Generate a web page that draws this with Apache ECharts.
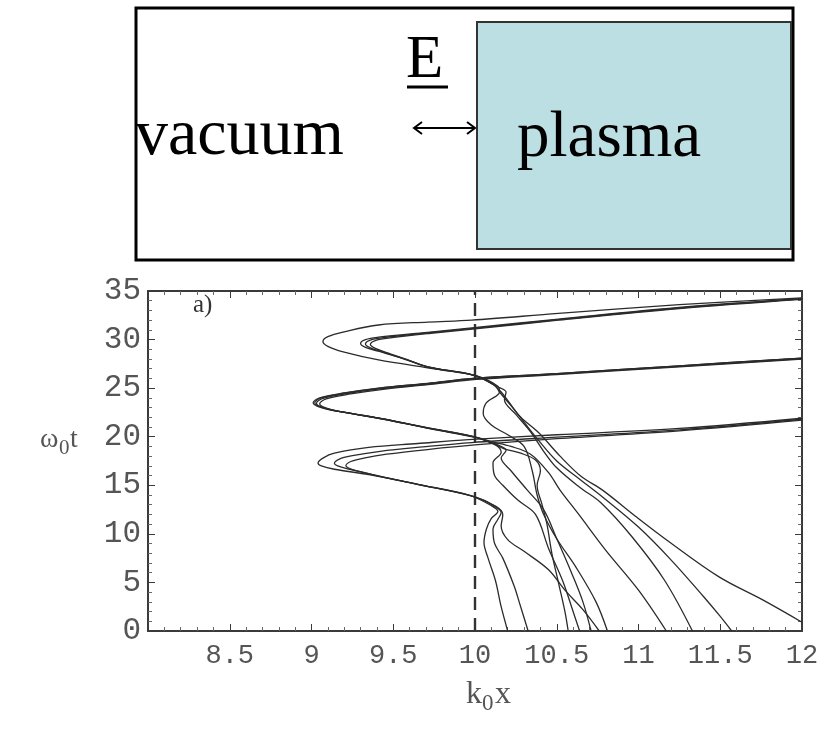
<!DOCTYPE html>
<html>
<head>
<meta charset="utf-8">
<style>
  html, body { margin: 0; padding: 0; background: #fff; }
  #chart { width: 828px; height: 746px; }
</style>
<script src="https://cdn.jsdelivr.net/npm/echarts/dist/echarts.min.js"></script>
</head>
<body>
<div id="chart"></div>
<script>
// Axis ranges and tick labels
const xRange = [8, 12];
const yRange = [0, 35];
const xTickLabels = ['8.5', '9', '9.5', '10', '10.5', '11', '11.5', '12'];
const yTickLabels = ['0', '5', '10', '15', '20', '25', '30', '35'];
const surfaceX = 10;

// Electron trajectories [k0x, w0t], each followed from t = 0 upward.
// Group returning near w0t ~ 17
const trajA1 = [[10.20,0],[10.16,2.5],[10.125,5.2],[10.08,7.5],[10.055,9.1],[10.07,10.5],[10.10,11.6],[10.14,12.3],[10.10,12.9],[9.96,14.0],[9.65,15.1],[9.35,16.1],[9.14,16.65],[9.06,17.0],[9.04,17.3],[9.07,17.8],[9.14,18.3],[9.35,18.9],[9.65,19.3],[9.96,19.7],[10.5,20.2],[11.25,20.85],[12.0,21.9]];
const trajA2 = [[10.325,0],[10.27,3.0],[10.24,4.6],[10.17,7.5],[10.12,9.0],[10.11,10.5],[10.14,11.5],[10.16,12.2],[10.12,12.85],[9.98,13.9],[9.66,15.05],[9.40,16.0],[9.22,16.7],[9.16,17.0],[9.14,17.25],[9.17,17.7],[9.25,18.05],[9.42,18.5],[9.68,18.95],[9.98,19.4],[10.5,19.95],[11.25,20.7],[12.0,21.8]];
const trajA3 = [[10.76,0],[10.66,2.2],[10.55,4.2],[10.45,6.3],[10.30,8.2],[10.20,9.4],[10.16,10.8],[10.17,12.0],[10.13,12.8],[10.0,13.8],[9.68,15.0],[9.45,15.8],[9.30,16.4],[9.23,16.75],[9.21,17.0],[9.24,17.45],[9.32,17.8],[9.46,18.2],[9.72,18.7],[10.0,19.15],[10.5,19.8],[11.25,20.6],[12.0,21.7]];

// Group returning near w0t ~ 23.5
const trajB1 = [[10.57,0],[10.55,2.0],[10.51,5.0],[10.47,8.0],[10.44,11.0],[10.41,13.0],[10.38,15.0],[10.40,16.5],[10.37,17.6],[10.28,18.3],[10.18,18.75],[10.12,19.2],[9.99,20.0],[9.71,20.9],[9.41,21.9],[9.20,22.5],[9.06,23.0],[9.01,23.5],[9.05,24.0],[9.20,24.5],[9.41,25.0],[9.71,25.5],[9.99,26.0],[10.5,26.5],[11.25,27.3],[12.0,28.1]];
const trajB2 = [[10.64,0],[10.60,2.0],[10.54,5.0],[10.45,8.5],[10.37,12.0],[10.26,13.5],[10.17,15.0],[10.12,16.0],[10.11,17.3],[10.16,18.4],[10.13,19.1],[10.0,19.95],[9.72,20.85],[9.43,21.85],[9.22,22.45],[9.08,22.95],[9.03,23.45],[9.07,23.95],[9.22,24.45],[9.43,24.95],[9.72,25.45],[10.0,25.95],[10.5,26.45],[11.25,27.25],[12.0,28.05]];
const trajB3 = [[10.71,0],[10.66,3.0],[10.59,6.0],[10.50,9.5],[10.42,12.5],[10.32,14.5],[10.22,16.5],[10.16,17.8],[10.19,18.6],[10.14,19.15],[10.01,19.9],[9.73,20.8],[9.45,21.8],[9.24,22.4],[9.10,22.9],[9.05,23.4],[9.09,23.9],[9.24,24.4],[9.45,24.9],[9.73,25.4],[10.01,25.9],[10.5,26.4],[11.25,27.2],[12.0,28.0]];
const trajB4 = [[11.17,0],[11.0,4.2],[10.80,8.3],[10.63,12.1],[10.52,14.5],[10.45,16.3],[10.34,18.2],[10.22,19.0],[10.10,19.5],[9.98,20.05],[9.70,20.95],[9.40,21.95],[9.19,22.55],[9.06,23.05],[9.02,23.5],[9.06,24.0],[9.21,24.5],[9.42,25.0],[9.72,25.5],[9.99,26.0],[10.5,26.5],[11.25,27.3],[12.0,28.1]];

// Group returning near w0t ~ 30
const trajC1 = [[12.0,0.9],[11.76,3.2],[11.49,5.6],[11.17,9.4],[10.99,11.7],[10.78,14.5],[10.65,15.9],[10.52,18.0],[10.39,20.4],[10.28,22.0],[10.21,23.5],[10.16,24.6],[10.10,25.5],[9.98,26.4],[9.71,27.1],[9.41,27.9],[9.20,28.7],[9.10,29.3],[9.07,29.8],[9.10,30.3],[9.20,30.8],[9.41,31.5],[9.71,31.8],[9.98,32.0],[10.51,32.7],[11.25,33.6],[12.0,34.3]];
const trajC2 = [[11.57,0],[11.50,1.5],[11.40,3.5],[11.20,7.3],[11.0,10.7],[10.78,13.8],[10.65,15.5],[10.50,17.5],[10.38,19.8],[10.30,21.5],[10.22,23.2],[10.15,24.6],[10.12,25.3],[9.99,26.35],[9.71,27.2],[9.55,28.1],[9.41,28.8],[9.33,29.2],[9.30,29.6],[9.33,30.0],[9.41,30.25],[9.71,30.75],[9.98,31.2],[10.51,32.1],[11.25,33.3],[12.0,34.2]];
const trajC3 = [[11.33,0],[11.16,5.2],[10.96,9.7],[10.77,13.2],[10.64,14.8],[10.50,16.8],[10.42,18.5],[10.34,20.5],[10.25,22.3],[10.18,23.8],[10.19,24.6],[10.13,25.2],[10.0,26.3],[9.72,27.15],[9.57,28.0],[9.44,28.7],[9.36,29.15],[9.33,29.55],[9.36,29.95],[9.44,30.2],[9.72,30.7],[9.99,31.15],[10.51,32.05],[11.25,33.25],[12.0,34.2]];
const trajC4 = [[10.81,0],[10.74,3.0],[10.62,6.5],[10.50,9.5],[10.42,12.0],[10.38,14.0],[10.35,16.5],[10.30,19.0],[10.20,20.2],[10.10,21.2],[10.05,22.4],[10.07,23.5],[10.15,24.6],[10.14,25.2],[10.01,26.25],[9.73,27.1],[9.59,27.9],[9.47,28.6],[9.39,29.1],[9.36,29.5],[9.39,29.9],[9.47,30.15],[9.73,30.65],[10.0,31.1],[10.51,32.0],[11.25,33.2],[12.0,34.15]];

const trajectories = {
  A1: trajA1, A2: trajA2, A3: trajA3,
  B1: trajB1, B2: trajB2, B3: trajB3, B4: trajB4,
  C1: trajC1, C2: trajC2, C3: trajC3, C4: trajC4
};

const tickFont = 'Liberation Mono, DejaVu Sans Mono, monospace';
const serif = 'Liberation Serif, Times New Roman, serif';
const frameColor = '#3a3a3a';

const chart = echarts.init(document.getElementById('chart'), null, { renderer: 'canvas' });

const trajSeries = Object.keys(trajectories).map(name => ({
  name: name,
  type: 'line',
  xAxisIndex: 0,
  yAxisIndex: 0,
  data: trajectories[name],
  showSymbol: false,
  smooth: 0.35,
  lineStyle: { color: '#2b2b2b', width: 1.3 },
  silent: true,
  z: 3
}));

const surfaceSeries = {
  name: 'surface',
  type: 'line',
  data: [[surfaceX, yRange[0]], [surfaceX, yRange[1]]],
  showSymbol: false,
  lineStyle: { color: '#333', width: 2.4, type: [13, 8] },
  silent: true,
  z: 2
};

function frameAxis(extra) {
  return Object.assign({
    type: 'value',
    axisLine: { show: true, onZero: false, lineStyle: { color: frameColor, width: 2 } },
    axisTick: { show: true, inside: true, length: 7, lineStyle: { color: frameColor, width: 1 } },
    minorTick: { show: true, splitNumber: 5, length: 4, lineStyle: { color: '#666', width: 1 } },
    splitLine: { show: false },
    minorSplitLine: { show: false }
  }, extra);
}

const option = {
  animation: false,
  backgroundColor: '#fff',
  grid: { left: 148, top: 291, right: 26, bottom: 115, containLabel: false },
  xAxis: [
    frameAxis({
      min: xRange[0], max: xRange[1], interval: 0.5, position: 'bottom',
      axisLabel: {
        show: true, margin: 11, fontFamily: tickFont, fontSize: 27, color: '#555',
        formatter: v => { const s = String(v); return xTickLabels.indexOf(s) >= 0 ? s : ''; }
      }
    }),
    frameAxis({
      min: xRange[0], max: xRange[1], interval: 0.5, position: 'top',
      axisLabel: { show: false }
    })
  ],
  yAxis: [
    frameAxis({
      min: yRange[0], max: yRange[1], interval: 5, position: 'left',
      axisLabel: {
        show: true, margin: 7, fontFamily: tickFont, fontSize: 31, color: '#555',
        formatter: v => { const s = String(v); return yTickLabels.indexOf(s) >= 0 ? s : ''; }
      }
    }),
    frameAxis({
      min: yRange[0], max: yRange[1], interval: 5, position: 'right',
      axisLabel: { show: false }
    })
  ],
  series: [surfaceSeries].concat(trajSeries),
  graphic: [
    // Schematic: vacuum / plasma interface
    { type: 'rect', shape: { x: 136, y: 8, width: 657, height: 252 },
      style: { fill: '#fff', stroke: '#000', lineWidth: 3 }, z: 1 },
    { type: 'rect', shape: { x: 477, y: 22, width: 314, height: 227 },
      style: { fill: '#bbdfe2', stroke: '#333', lineWidth: 2 }, z: 2 },
    { type: 'text', x: 135, y: 137, z: 3,
      style: { text: 'vacuum', font: '66px ' + serif, fill: '#000', textAlign: 'left', textVerticalAlign: 'middle' } },
    { type: 'text', x: 517, y: 139, z: 3,
      style: { text: 'plasma', font: '65px ' + serif, fill: '#000', textAlign: 'left', textVerticalAlign: 'middle' } },
    { type: 'text', x: 406, y: 61, z: 3,
      style: { text: 'E', font: '61px ' + serif, fill: '#000', textAlign: 'left', textVerticalAlign: 'middle' } },
    { type: 'line', shape: { x1: 407, y1: 87, x2: 448, y2: 87 }, style: { stroke: '#000', lineWidth: 3 }, z: 3 },
    { type: 'line', shape: { x1: 414, y1: 128, x2: 475, y2: 128 }, style: { stroke: '#000', lineWidth: 2 }, z: 3 },
    { type: 'polyline', shape: { points: [[422, 122], [414, 128], [422, 134]] }, style: { stroke: '#000', lineWidth: 2, fill: null }, z: 3 },
    { type: 'polyline', shape: { points: [[467, 122], [475, 128], [467, 134]] }, style: { stroke: '#000', lineWidth: 2, fill: null }, z: 3 },

    // Panel tag
    { type: 'text', x: 193, y: 305, z: 5,
      style: { text: 'a)', font: '25px ' + serif, fill: '#333', textAlign: 'left', textVerticalAlign: 'middle' } },

    // Axis titles
    { type: 'text', x: 40, y: 440, z: 5,
      style: { text: 'ω', font: '28px ' + serif, fill: '#555', textAlign: 'left', textVerticalAlign: 'middle' } },
    { type: 'text', x: 59, y: 448, z: 5,
      style: { text: '0', font: '21px ' + serif, fill: '#555', textAlign: 'left', textVerticalAlign: 'middle' } },
    { type: 'text', x: 70, y: 440, z: 5,
      style: { text: 't', font: '28px ' + serif, fill: '#555', textAlign: 'left', textVerticalAlign: 'middle' } },
    { type: 'text', x: 466, y: 695, z: 5,
      style: { text: 'k', font: '32px ' + serif, fill: '#555', textAlign: 'left', textVerticalAlign: 'middle' } },
    { type: 'text', x: 482, y: 704, z: 5,
      style: { text: '0', font: '23px ' + serif, fill: '#555', textAlign: 'left', textVerticalAlign: 'middle' } },
    { type: 'text', x: 495, y: 695, z: 5,
      style: { text: 'x', font: '32px ' + serif, fill: '#555', textAlign: 'left', textVerticalAlign: 'middle' } }
  ]
};

chart.setOption(option);
</script>
</body>
</html>
